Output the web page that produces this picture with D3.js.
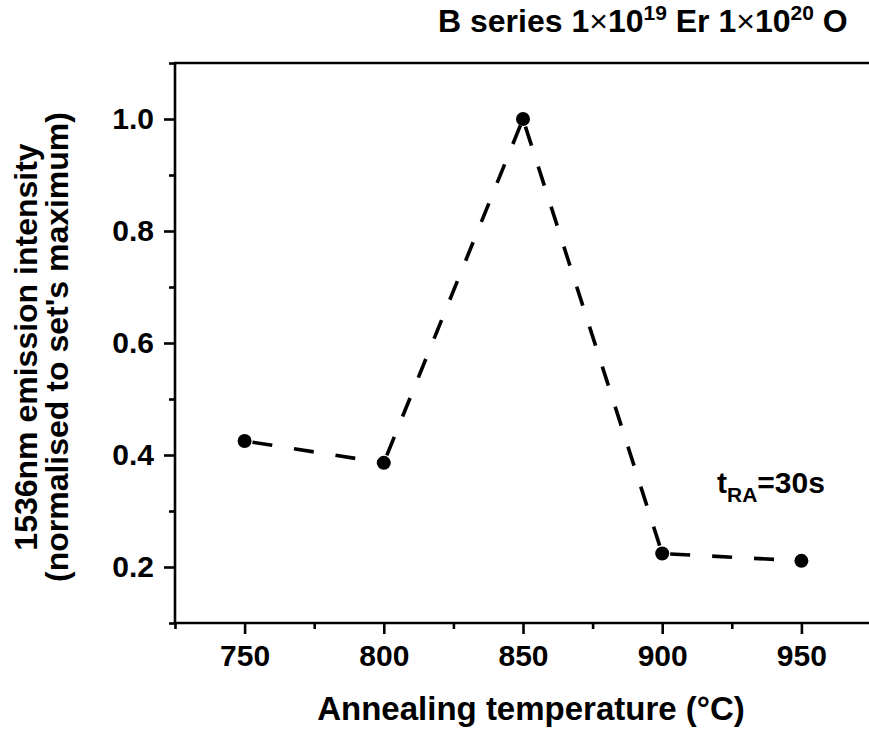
<!DOCTYPE html>
<html>
<head>
<meta charset="utf-8">
<script src="https://cdn.jsdelivr.net/npm/d3@7"></script>
<style>
  html, body { margin: 0; padding: 0; background: #fff; }
  svg { display: block; font-family: "Liberation Sans", Arial, sans-serif; font-weight: bold; }
</style>
</head>
<body>
<svg id="chart" width="869" height="731"></svg>
<script>
// Annealing temperatures (°C) and normalised 1536 nm emission intensity
const temperatures = [750, 800, 850, 900, 950];
const intensity = [0.425, 0.386, 1.0, 0.224, 0.211];

const xTicks = [750, 800, 850, 900, 950];
const xMinorTicks = [725, 775, 825, 875, 925, 975];
const yTicks = [0.2, 0.4, 0.6, 0.8, 1.0];
const yMinorTicks = [0.1, 0.3, 0.5, 0.7, 0.9, 1.1];

const FONT = "Liberation Sans, Arial, sans-serif";
const svg = d3.select("#chart");

const x = d3.scaleLinear().domain([725, 975]).range([175, 871]);
const y = d3.scaleLinear().domain([0.1, 1.1]).range([623, 63]);

// frame lines: left axis, bottom axis, top border
svg.append("line").attr("x1", x(725)).attr("x2", x(725)).attr("y1", y(1.1) - 1).attr("y2", y(0.1) + 1)
  .attr("stroke", "#000").attr("stroke-width", 2.6);
svg.append("line").attr("x1", x(725) - 1).attr("x2", 869).attr("y1", y(0.1)).attr("y2", y(0.1))
  .attr("stroke", "#000").attr("stroke-width", 2.6);
svg.append("line").attr("x1", x(725) - 1).attr("x2", 869).attr("y1", y(1.1)).attr("y2", y(1.1))
  .attr("stroke", "#000").attr("stroke-width", 2.6);

function styleTicks(g) {
  g.select(".domain").remove();
  g.selectAll(".tick line").attr("stroke-width", 2.6).attr("stroke", "#000");
  g.selectAll(".tick text").attr("font-size", 30).attr("font-weight", "bold")
    .attr("font-family", FONT).attr("fill", "#000");
}

// y axis (major + minor)
svg.append("g").attr("transform", `translate(${x(725)},0)`)
  .call(d3.axisLeft(y).tickValues(yTicks).tickFormat(d3.format(".1f")).tickSize(11).tickPadding(10))
  .call(styleTicks);
svg.append("g").attr("transform", `translate(${x(725)},0)`)
  .call(d3.axisLeft(y).tickValues(yMinorTicks).tickSize(6).tickFormat(""))
  .call(styleTicks);

// x axis (major + minor)
svg.append("g").attr("transform", `translate(0,${y(0.1)})`)
  .call(d3.axisBottom(x).tickValues(xTicks).tickFormat(d3.format("d")).tickSize(11).tickPadding(11))
  .call(styleTicks);
svg.append("g").attr("transform", `translate(0,${y(0.1)})`)
  .call(d3.axisBottom(x).tickValues(xMinorTicks).tickSize(6).tickFormat(""))
  .call(styleTicks);

// data: dashed segments (pattern restarts at each point) and filled markers
const pts = temperatures.map((t, i) => [t, intensity[i]]);
const segments = d3.pairs(pts);
const line = d3.line().x(d => x(d[0])).y(d => y(d[1]));
svg.append("g").selectAll("path").data(segments).join("path")
  .attr("d", line)
  .attr("fill", "none").attr("stroke", "#000").attr("stroke-width", 3.6)
  .attr("stroke-dasharray", "20 22").attr("stroke-dashoffset", 34);

svg.append("g").selectAll("circle").data(pts).join("circle")
  .attr("cx", d => x(d[0])).attr("cy", d => y(d[1])).attr("r", 7).attr("fill", "#000");

// title
const title = svg.append("text").attr("x", 438).attr("y", 32).attr("font-size", 32).attr("fill", "#000");
title.append("tspan").text("B series 1");
title.append("tspan").attr("font-weight", "normal").text("\u00d7");
title.append("tspan").text("10");
title.append("tspan").attr("font-size", 21).attr("dy", -12).text("19");
title.append("tspan").attr("dy", 12).text(" Er 1");
title.append("tspan").attr("font-weight", "normal").text("\u00d7");
title.append("tspan").text("10");
title.append("tspan").attr("font-size", 21).attr("dy", -12).text("20");
title.append("tspan").attr("dy", 12).text(" O");

// annotation
const ann = svg.append("text").attr("x", 717).attr("y", 493).attr("font-size", 30).attr("fill", "#000");
ann.append("tspan").text("t");
ann.append("tspan").attr("font-size", 21).attr("dy", 9).text("RA");
ann.append("tspan").attr("dy", -9).text("=30s");

// axis titles
svg.append("text").attr("x", 531).attr("y", 720).attr("text-anchor", "middle")
  .attr("font-size", 33).attr("fill", "#000").text("Annealing temperature (\u00b0C)");

const yTitle = svg.append("text").attr("transform", "translate(0,347) rotate(-90)")
  .attr("text-anchor", "middle").attr("font-size", 32).attr("fill", "#000");
yTitle.append("tspan").attr("x", 0).attr("y", 37).text("1536nm emission intensity");
yTitle.append("tspan").attr("x", 0).attr("y", 68).text("(normalised to set's maximum)");
</script>
</body>
</html>
